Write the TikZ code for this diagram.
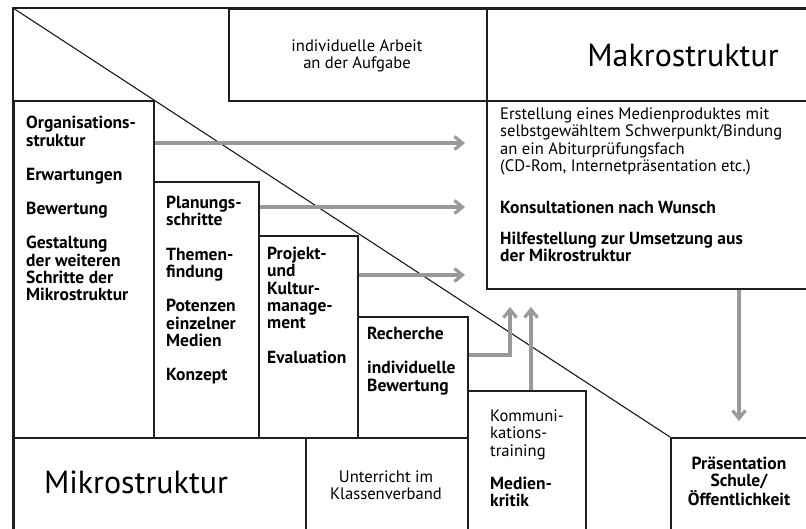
\documentclass[tikz,border=0pt]{standalone}
\usepackage{fontspec}
\setmainfont{PT Sans}
\usetikzlibrary{arrows.meta}
\begin{document}
\begin{tikzpicture}[x=1pt,y=-1pt,
  frame/.style={draw=black!88, line width=1.8pt},
  boxx/.style={frame, rectangle, inner sep=0pt, anchor=north west},
  arr/.style={draw=black!40, line width=3.2pt, -{Straight Barb[length=8pt,width=13pt]}},
  bt/.style={font=\fontsize{17.5}{17.3}\selectfont\bfseries, align=left, anchor=north west, inner sep=0pt},
  rt/.style={font=\fontsize{16.6}{17.3}\selectfont, align=left, anchor=north west, inner sep=0pt},
  ct/.style={font=\fontsize{16.6}{17.3}\selectfont, align=center, inner sep=0pt},
  big/.style={font=\fontsize{32}{36}\selectfont, inner sep=0pt},
]
\useasboundingbox (0,0) rectangle (806,528);
% boxes
\node[boxx, minimum width=258pt, minimum height=92pt] (arbeit) at (228,8) {};
\node[boxx, minimum width=322pt, minimum height=92pt] (makro) at (486,8) {};
\node[boxx, minimum width=322pt, minimum height=188pt] (inhalt) at (486,100) {};
\node[boxx, minimum width=140pt, minimum height=337pt] (org) at (13,100) {};
\node[boxx, minimum width=105pt, minimum height=256pt] (plan) at (153,181) {};
\node[boxx, minimum width=99pt, minimum height=202pt] (proj) at (258,235) {};
\node[boxx, minimum width=110pt, minimum height=121pt] (rech) at (357,316) {};
\node[boxx, minimum width=118pt, minimum height=140pt] (komm) at (467,390) {};
\node[boxx, minimum width=292pt, minimum height=93pt] (mikro) at (13,437) {};
\node[boxx, minimum width=162pt, minimum height=93pt] (unter) at (305,437) {};
\node[boxx, minimum width=138pt, minimum height=93pt] (praes) at (670,437) {};
% frame and diagonal
\coordinate (corner) at (13,8);
\draw[frame] (808,8) -- (corner) -- (13,530);
\draw[line width=1.1pt, black!90] (corner) -- (praes.north west);
% texts
\node[ct] at (357,56) {individuelle Arbeit\\an der Aufgabe};
\node[big] at (683,55) {Makrostruktur};
\node[big] at (136,482) {Mikrostruktur};
\node[rt] (t1) at (500,107.5) {Erstellung eines Medienproduktes mit\\selbstgewähltem Schwerpunkt/Bindung\\an ein Abiturprüfungsfach\\(CD-Rom, Internetpräsentation etc.)};
\node[bt] (t2) at (500,200.5) {Konsultationen nach Wunsch};
\node[bt] (t3) at (500,232) {Hilfestellung zur Umsetzung aus\\der Mikrostruktur};
\node[bt] at (26,116) {Organisations-\\struktur\\[17pt]Erwartungen\\[17pt]Bewertung\\[17pt]Gestaltung\\der weiteren\\Schritte der\\Mikrostruktur};
\node[bt] at (166,196) {Planungs-\\schritte\\[17pt]Themen-\\findung\\[17pt]Potenzen\\einzelner\\Medien\\[17pt]Konzept};
\node[bt] at (267,247) {Projekt-\\und\\Kultur-\\manage-\\ment\\[17pt]Evaluation};
\node[bt] at (367,327) {Recherche\\[17pt]individuelle\\Bewertung};
\node[rt] at (490,409.5) {Kommuni-\\kations-\\training};
\node[bt] at (490,477) {Medien-\\kritik};
\node[ct] at (386,485) {Unterricht im\\Klassenverband};
\node[ct, font=\fontsize{17.5}{17.3}\selectfont\bfseries] at (739,481) {Präsentation\\Schule/\\Öffentlichkeit};
% arrows
\draw[arr] (org.east |- 0,143) -- (465,143);
\draw[arr] (plan.east |- 0,207) -- (465,207);
\draw[arr] (proj.east |- 0,275) -- (465,275);
\draw[arr] (rech.east |- 0,355) -| (510,307);
\draw[arr] (komm.north -| 531,0) -- (531,307);
\draw[arr] (inhalt.south -| 739,0) -- (739,421);
\end{tikzpicture}
\end{document}
